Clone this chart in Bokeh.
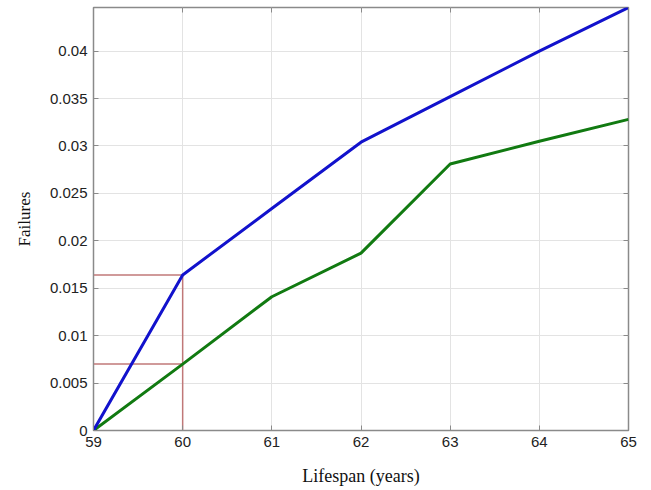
from bokeh.plotting import figure
from bokeh.models import Range1d, LinearAxis, FixedTicker, CustomJSTickFormatter
from bokeh.embed import file_html
from bokeh.resources import INLINE

# ---- data ----
years = [59, 60, 61, 62, 63, 64, 65]
failures_upper = [0.0, 0.0164, 0.0234, 0.0304, 0.0352, 0.0400, 0.0446]
failures_lower = [0.0, 0.0070, 0.0141, 0.0187, 0.0281, 0.0305, 0.0328]
x_ticks = [59, 60, 61, 62, 63, 64, 65]
y_ticks = [0, 0.005, 0.01, 0.015, 0.02, 0.025, 0.03, 0.035, 0.04]
ref_year = 60
ref_values = [0.0164, 0.0070]

GRAY = "#8a8a8a"

p = figure(width=643, height=488, output_backend="svg", toolbar_location=None,
           x_range=Range1d(59, 65), y_range=Range1d(0, 0.0446),
           min_border_left=93, min_border_right=15, min_border_top=7, min_border_bottom=0)
p.background_fill_color = "white"
p.border_fill_color = "white"
p.outline_line_color = GRAY
p.outline_line_width = 1.5

fmt = CustomJSTickFormatter(code="return (Math.round(tick*1000)/1000).toString();")

for ax in (p.xaxis[0], p.yaxis[0]):
    ax.major_tick_in = 5
    ax.major_tick_out = 0
    ax.minor_tick_line_color = None
    ax.axis_line_color = GRAY
    ax.major_tick_line_color = GRAY
    ax.major_label_text_font = "Liberation Sans"
    ax.major_label_text_font_size = "15px"
    ax.major_label_text_color = "#222222"
    ax.axis_label_text_font = "Liberation Serif"
    ax.axis_label_text_font_style = "normal"
    ax.axis_label_text_color = "#111111"

p.xaxis[0].ticker = FixedTicker(ticks=x_ticks)
p.yaxis[0].ticker = FixedTicker(ticks=y_ticks)
p.yaxis[0].formatter = fmt
p.xaxis[0].axis_label = "Lifespan (years)"
p.yaxis[0].axis_label = "Failures"
p.xaxis[0].axis_label_text_font_size = "18px"
p.yaxis[0].axis_label_text_font_size = "17px"
p.xaxis[0].major_label_standoff = 6
p.yaxis[0].major_label_standoff = 6
p.xaxis[0].axis_label_standoff = 16
p.yaxis[0].axis_label_standoff = 13

for loc, tk in (("above", x_ticks), ("right", y_ticks)):
    a = LinearAxis(ticker=FixedTicker(ticks=tk), major_label_text_font_size="1px",
                   major_label_text_color=None,
                   major_label_standoff=0, major_tick_in=5, major_tick_out=0,
                   minor_tick_line_color=None, axis_line_color=None,
                   major_tick_line_color=GRAY)
    p.add_layout(a, loc)

p.xgrid.ticker = FixedTicker(ticks=x_ticks)
p.ygrid.ticker = FixedTicker(ticks=y_ticks)
p.grid.grid_line_color = "#e3e3e3"
p.grid.grid_line_width = 1

# reference lines
p.segment(x0=[years[0]] * len(ref_values), y0=ref_values,
          x1=[ref_year] * len(ref_values), y1=ref_values,
          line_color="#c07878", line_width=1.5)
p.segment(x0=[ref_year], y0=[0], x1=[ref_year], y1=[max(ref_values)],
          line_color="#c07878", line_width=1.5)

p.line(years, failures_lower, line_color="#117a11", line_width=3)
p.line(years, failures_upper, line_color="#1212cc", line_width=3)

open("out.html", "w").write(file_html(p, INLINE))
